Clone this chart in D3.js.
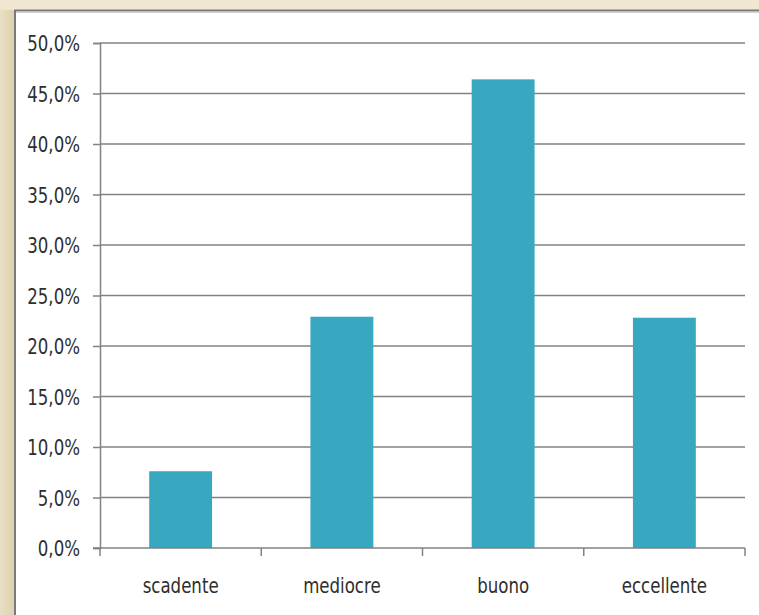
<!DOCTYPE html>
<html>
<head>
<meta charset="utf-8">
<script src="https://cdn.jsdelivr.net/npm/d3@7"></script>
<style>
  html, body { margin: 0; padding: 0; background: #efe7d2; }
  svg { display: block; }
</style>
</head>
<body>
<svg id="chart" width="759" height="615"></svg>
<script>
const categories = ["scadente", "mediocre", "buono", "eccellente"];
const values = [7.6, 22.9, 46.4, 22.8];
const yTicks = [0, 5, 10, 15, 20, 25, 30, 35, 40, 45, 50];

const W = 759, H = 615;
const margin = { left: 100, right: 14, top: 43, bottom: 67 };
const FONT = "'DejaVu Sans Condensed', 'DejaVu Sans', sans-serif";
const FS = "22px";
const SX = 0.84;
const svg = d3.select("#chart");

// background
const defs = svg.append("defs");
const lg = defs.append("linearGradient").attr("id", "side").attr("x1", 0).attr("x2", 1).attr("y1", 0).attr("y2", 0);
lg.append("stop").attr("offset", "0%").attr("stop-color", "#e9dfc4");
lg.append("stop").attr("offset", "100%").attr("stop-color", "#ddd0ac");
svg.append("rect").attr("width", W).attr("height", H).attr("fill", "#efe7d2");
svg.append("rect").attr("x", 0).attr("y", 10).attr("width", 15).attr("height", H - 10).attr("fill", "url(#side)");

// panel
svg.append("rect").attr("x", 15).attr("y", 10).attr("width", W - 15).attr("height", H - 10).attr("fill", "#ffffff");
svg.append("line").attr("x1", 14).attr("x2", W).attr("y1", 10.5).attr("y2", 10.5).attr("stroke", "#7a7a7a").attr("stroke-width", 2);
svg.append("line").attr("x1", 15).attr("x2", 15).attr("y1", 10).attr("y2", H).attr("stroke", "#7a7a7a").attr("stroke-width", 2);
svg.append("line").attr("x1", 16).attr("x2", W).attr("y1", 12.5).attr("y2", 12.5).attr("stroke", "#d0d0d0").attr("stroke-width", 1);

const x = d3.scaleBand().domain(categories)
  .range([margin.left, W - margin.right])
  .paddingInner(0.61).paddingOuter(0.305);
const xEdges = d3.scaleBand().domain(categories).range([margin.left, W - margin.right]).padding(0);
const y = d3.scaleLinear().domain([0, 50]).range([H - margin.bottom, margin.top]);

// gridlines
svg.append("g").selectAll("line").data(yTicks.slice(1)).join("line")
  .attr("x1", margin.left).attr("x2", W - margin.right)
  .attr("y1", d => y(d)).attr("y2", d => y(d))
  .attr("stroke", "#828282").attr("stroke-width", 1.5);

// y axis
const yAxis = d3.axisLeft(y).tickValues(yTicks).tickSize(7).tickPadding(12)
  .tickFormat(d => d3.format(".1f")(d).replace(".", ",") + "%");
const gy = svg.append("g").attr("transform", `translate(${margin.left},0)`).call(yAxis);
gy.select(".domain").attr("stroke", "#828282").attr("stroke-width", 1.5);
gy.selectAll(".tick line").attr("stroke", "#828282").attr("stroke-width", 1.5);
gy.selectAll(".tick text")
  .attr("x", 0)
  .attr("dy", "0.36em")
  .attr("transform", `translate(-20,0) scale(${SX},1)`)
  .attr("fill", "#2e2e2e")
  .style("font-family", FONT)
  .style("font-size", FS);

// bars
svg.append("g").selectAll("rect").data(values).join("rect")
  .attr("x", (d, i) => x(categories[i]))
  .attr("width", x.bandwidth())
  .attr("y", d => y(d))
  .attr("height", d => y(0) - y(d))
  .attr("fill", "#38a8c1");

// x axis
const xAxisG = svg.append("g").attr("transform", `translate(0,${y(0)})`);
xAxisG.append("line").attr("x1", margin.left - 7).attr("x2", W - margin.right)
  .attr("stroke", "#828282").attr("stroke-width", 1.5);
const edges = categories.map(c => xEdges(c)).concat([W - margin.right]);
xAxisG.selectAll("line.sep").data(edges).join("line").attr("class", "sep")
  .attr("x1", d => d).attr("x2", d => d).attr("y1", 0).attr("y2", 8)
  .attr("stroke", "#828282").attr("stroke-width", 1.5);
xAxisG.selectAll("text").data(categories).join("text")
  .attr("transform", d => `translate(${x(d) + x.bandwidth() / 2},45) scale(${SX},1)`)
  .attr("text-anchor", "middle")
  .attr("fill", "#2e2e2e")
  .style("font-family", FONT)
  .style("font-size", FS)
  .text(d => d);
</script>
</body>
</html>
